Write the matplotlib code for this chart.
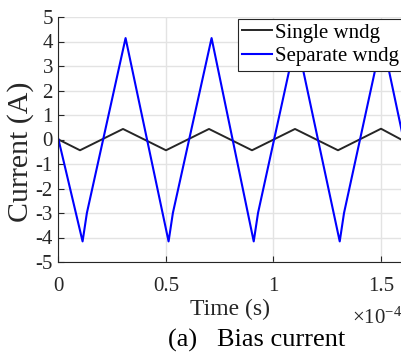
import matplotlib.pyplot as plt
import numpy as np
from matplotlib.ticker import FuncFormatter

plt.rcParams['font.family'] = ['Liberation Serif', 'DejaVu Serif']
plt.rcParams['mathtext.fontset'] = 'custom'
plt.rcParams['mathtext.rm'] = 'Liberation Serif'
plt.rcParams['axes.unicode_minus'] = False

# valores (tempo em unidades de 1e-4 s)
t_single = [0, 0.10, 0.30, 0.50, 0.70, 0.90, 1.10, 1.30, 1.50, 1.60]
i_single = [0, -0.44, 0.43, -0.44, 0.43, -0.44, 0.43, -0.44, 0.44, -0.03]

t_separate = [0, 0.112, 0.132, 0.312, 0.512, 0.532, 0.712, 0.908, 0.928,
              1.106, 1.308, 1.328, 1.505, 1.60]
i_separate = [0, -4.16, -3.0, 4.14, -4.16, -3.0, 4.14, -4.16, -3.0,
              4.14, -4.16, -3.0, 4.14, 0.2]

labels = ['Single wndg', 'Separate wndg']
x_ticks = [0, 0.5, 1, 1.5]
y_ticks = list(range(-5, 6))

fig = plt.figure(figsize=(4.02, 3.55), dpi=100)
ax = fig.add_axes([58.5 / 402, 1 - 262 / 355, (402.5 - 58.5) / 402, (262 - 17) / 355])

escala = 1e-4
ax.plot(np.array(t_single) * escala, i_single, color='#262626', lw=1.4, label=labels[0])
ax.plot(np.array(t_separate) * escala, i_separate, color='#0000ff', lw=1.5, label=labels[1])

ax.set_xlim(0, 1.6e-4)
ax.set_ylim(-5, 5)
ax.set_xticks(np.array(x_ticks) * escala)
ax.set_yticks(y_ticks)
ax.xaxis.set_major_formatter(FuncFormatter(lambda v, p: f'{v / escala:g}'))
ax.tick_params(direction='in', length=4, width=0.8, colors='#262626',
               labelsize=15, labelcolor='#262626')
ax.tick_params(axis='x', pad=11)
ax.tick_params(axis='y', pad=4)
ax.grid(True, color='#e3e3e3', lw=1.0)
ax.set_axisbelow(True)
for s in ['top', 'right']:
    ax.spines[s].set_visible(False)
for s in ['left', 'bottom']:
    ax.spines[s].set_color('#262626')
    ax.spines[s].set_linewidth(0.8)

ax.set_xlabel('Time (s)', fontsize=17, color='#262626', labelpad=2)
ax.set_ylabel('Current (A)', fontsize=21.5, color='#262626')
ax.yaxis.set_label_coords(-0.072, 0.45)

leg = ax.legend(loc='upper right', bbox_to_anchor=(1.002, 0.992), fontsize=15,
                handlelength=1.45, handletextpad=0.15, labelspacing=0.2,
                borderpad=0.2, borderaxespad=0.0, fancybox=False, framealpha=1)
leg.get_frame().set_edgecolor('#262626')
leg.get_frame().set_linewidth(0.8)

fig.text(352 / 402, 1 - 318 / 355, r'$\times\mathregular{10^{-4}}$', fontsize=15,
         color='#262626', va='center', ha='left')
fig.text(257 / 402, 1 - 340 / 355, '(a)   Bias current', fontsize=19,
         color='black', va='center', ha='center')

fig.savefig('out.png', dpi=100)
